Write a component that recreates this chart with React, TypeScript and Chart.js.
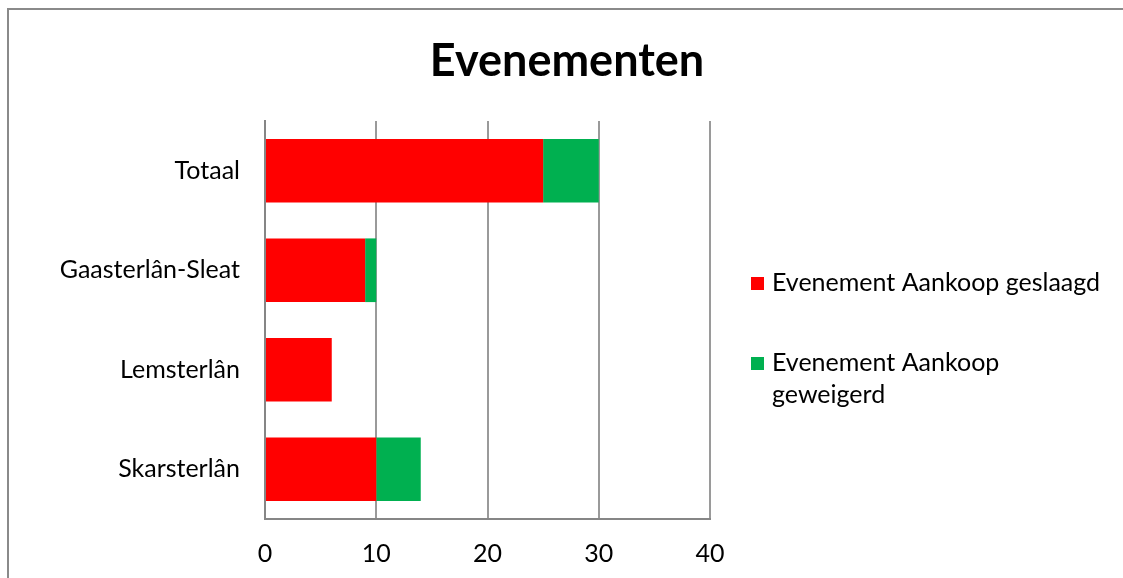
import React, { useEffect, useRef } from "react";
import { Chart, registerables } from "chart.js";

Chart.register(...registerables);

const categories = ["Totaal", "Gaasterlân-Sleat", "Lemsterlân", "Skarsterlân"];
const geslaagd = [25, 9, 6, 10];
const geweigerd = [5, 1, 0, 4];
const seriesLabels = ["Evenement Aankoop geslaagd", "Evenement Aankoop geweigerd"];
const seriesColors = ["#FF0000", "#00B050"];
const chartTitle = "Evenementen";

const FONT = "Lato, 'Noto Sans', sans-serif";
const LABEL_SIZE = 25;

const W = 1123;
const H = 578;
const PLOT = { left: 265, right: 710, top: 121, bottom: 519 };

const titlePlugin = {
  id: "centerTitle",
  afterDraw(chart: any) {
    const ctx = chart.ctx;
    ctx.save();
    ctx.font = `bold 45px ${FONT}`;
    ctx.fillStyle = "#000";
    ctx.textAlign = "center";
    ctx.textBaseline = "middle";
    ctx.fillText(chartTitle, 567, 61);
    ctx.restore();
  },
};

const legendPlugin = {
  id: "sideLegend",
  afterDraw(chart: any) {
    const ctx = chart.ctx;
    const area = chart.chartArea;
    ctx.save();
    ctx.font = `${LABEL_SIZE}px ${FONT}`;
    ctx.fillStyle = "#000";
    ctx.textBaseline = "middle";
    ctx.textAlign = "left";
    const boxX = 751;
    const textX = 772;
    const maxW = 332;
    const lineH = 32;
    let y = area.top + 162;
    chart.data.datasets.forEach((ds: any) => {
      const words = String(ds.label).split(" ");
      const lines: string[] = [];
      let cur = "";
      words.forEach((w: string) => {
        const test = cur ? cur + " " + w : w;
        if (ctx.measureText(test).width > maxW && cur) {
          lines.push(cur);
          cur = w;
        } else cur = test;
      });
      if (cur) lines.push(cur);
      ctx.fillStyle = ds.backgroundColor;
      ctx.fillRect(boxX, y - 6, 13, 13);
      ctx.fillStyle = "#000";
      lines.forEach((l, i) => ctx.fillText(l, textX, y + i * lineH));
      y += 80;
    });
    ctx.restore();
  },
};

export default function App() {
  const ref = useRef<HTMLCanvasElement>(null);
  useEffect(() => {
    if (!ref.current) return;
    const chart = new Chart(ref.current, {
      type: "bar",
      data: {
        labels: categories,
        datasets: [
          { label: seriesLabels[0], data: geslaagd, backgroundColor: seriesColors[0] },
          { label: seriesLabels[1], data: geweigerd, backgroundColor: seriesColors[1] },
        ],
      },
      plugins: [titlePlugin, legendPlugin],
      options: {
        indexAxis: "y",
        responsive: false,
        animation: false,
        layout: { padding: { left: 0, right: W - PLOT.right, top: PLOT.top, bottom: 0 } },
        datasets: { bar: { categoryPercentage: 1, barPercentage: 0.64, borderWidth: 0 } },
        plugins: {
          legend: { display: false },
          tooltip: { enabled: false },
          title: { display: false },
        },
        scales: {
          x: {
            stacked: true,
            min: 0,
            max: 40,
            ticks: {
              stepSize: 10,
              color: "#000",
              font: { family: FONT, size: LABEL_SIZE },
              padding: 20,
            },
            grid: { color: "#9a9a9a", lineWidth: 2, drawTicks: false },
            border: { display: true, color: "#868686", width: 2 },
            afterFit(scale: any) {
              scale.height = H - PLOT.bottom;
            },
          },
          y: {
            stacked: true,
            ticks: {
              color: "#000",
              font: { family: FONT, size: LABEL_SIZE },
              padding: 25,
            },
            grid: { display: false, drawTicks: false },
            border: { display: true, color: "#868686", width: 2 },
            afterFit(scale: any) {
              scale.width = PLOT.left;
            },
          },
        },
      },
    });
    return () => chart.destroy();
  }, []);
  return (
    <div style={{ position: "fixed", left: 0, top: 0, width: W, height: H, overflow: "hidden", background: "#fff" }}>
      <div
        style={{
          position: "absolute",
          left: 7,
          top: 8,
          width: 1300,
          height: 800,
          borderLeft: "2px solid #8a8a8a",
          borderTop: "2px solid #8a8a8a",
          borderRight: "none",
          borderBottom: "none",
          boxSizing: "border-box",
        }}
      />
      <canvas ref={ref} width={W} height={H} style={{ position: "absolute", left: 0, top: 0 }} />
    </div>
  );
}
